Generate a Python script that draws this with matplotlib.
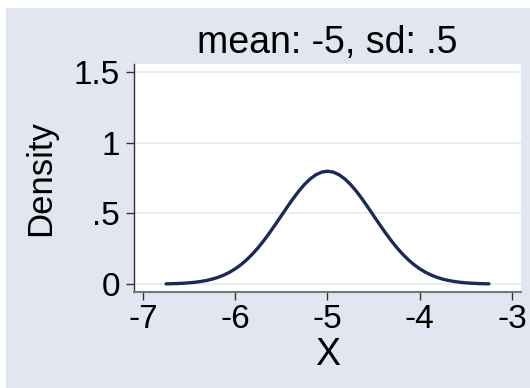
import matplotlib
matplotlib.use("Agg")
import matplotlib.pyplot as plt
from matplotlib.patches import Rectangle

# Data (density of the curve)
x_vals = [-6.75, -6.6875, -6.625, -6.5625, -6.5, -6.4375, -6.375, -6.3125, -6.25, -6.1875,
          -6.125, -6.0625, -6.0, -5.9375, -5.875, -5.8125, -5.75, -5.6875, -5.625, -5.5625,
          -5.5, -5.4375, -5.375, -5.3125, -5.25, -5.1875, -5.125, -5.0625, -5.0,
          -4.9375, -4.875, -4.8125, -4.75, -4.6875, -4.625, -4.5625, -4.5, -4.4375,
          -4.375, -4.3125, -4.25, -4.1875, -4.125, -4.0625, -4.0, -3.9375, -3.875,
          -3.8125, -3.75, -3.6875, -3.625, -3.5625, -3.5, -3.4375, -3.375, -3.3125, -3.25]
y_vals = [0.0017, 0.0027, 0.0041, 0.0060, 0.0089, 0.0128, 0.0182, 0.0255, 0.0351, 0.0475,
          0.0635, 0.0834, 0.1080, 0.1376, 0.1726, 0.2131, 0.2590, 0.3100, 0.3653, 0.4238,
          0.4839, 0.5441, 0.6023, 0.6563, 0.7041, 0.7437, 0.7733, 0.7917, 0.7979,
          0.7917, 0.7733, 0.7437, 0.7041, 0.6563, 0.6023, 0.5441, 0.4839, 0.4238,
          0.3653, 0.3100, 0.2590, 0.2131, 0.1726, 0.1376, 0.1080, 0.0834, 0.0635,
          0.0475, 0.0351, 0.0255, 0.0182, 0.0128, 0.0089, 0.0060, 0.0041, 0.0027, 0.0017]
x_ticks = [-7, -6, -5, -4, -3]
y_ticks = [0, 0.5, 1, 1.5]
y_tick_labels = ["0", ".5", "1", "1.5"]
title = "mean: -5, sd: .5"

plt.rcParams['font.family'] = ['Liberation Sans', 'DejaVu Sans']

W, H = 530, 388
fig = plt.figure(figsize=(W / 100, H / 100), dpi=100)
fig.patch.set_facecolor("white")
bg = "#E1E6F0"
fig.patches.append(Rectangle((6 / W, 0), 1 - 6 / W, 1 - 8 / H, transform=fig.transFigure,
                             facecolor=bg, edgecolor="none", zorder=-10))

ax = fig.add_axes([134 / W, 1 - 292 / H, (521 - 134) / W, (292 - 64) / H])
ax.set_facecolor("white")
ax.plot(x_vals, y_vals, color="#1A2B55", lw=2.4, solid_capstyle="round",
        solid_joinstyle="round")

ax.set_xlim(-7.098, -2.902)
ax.set_ylim(-0.056, 1.556)
ax.set_xticks(x_ticks)
ax.set_xticklabels([str(v) for v in x_ticks])
ax.set_yticks(y_ticks)
ax.set_yticklabels(y_tick_labels)
ax.grid(axis="y", color="#E6EAF2", lw=1.2)
ax.set_axisbelow(True)

for s in ["top", "right"]:
    ax.spines[s].set_visible(False)
ax.spines["left"].set_color("#333333")
ax.spines["bottom"].set_color("#777777")
ax.spines["left"].set_linewidth(1.0)
ax.spines["bottom"].set_linewidth(1.5)
ax.tick_params(axis="both", direction="out", length=6, width=1, color="#333333",
               labelsize=24)
ax.tick_params(axis="x", pad=3)
ax.tick_params(axis="y", pad=4)

ax.set_title(title, fontsize=27, pad=8)
ax.set_ylabel("Density", fontsize=25)
ax.yaxis.set_label_coords(-0.199, 0.5)
ax.set_xlabel("X", fontsize=27, labelpad=1)

fig.savefig("out.png", dpi=100, facecolor=fig.get_facecolor())
